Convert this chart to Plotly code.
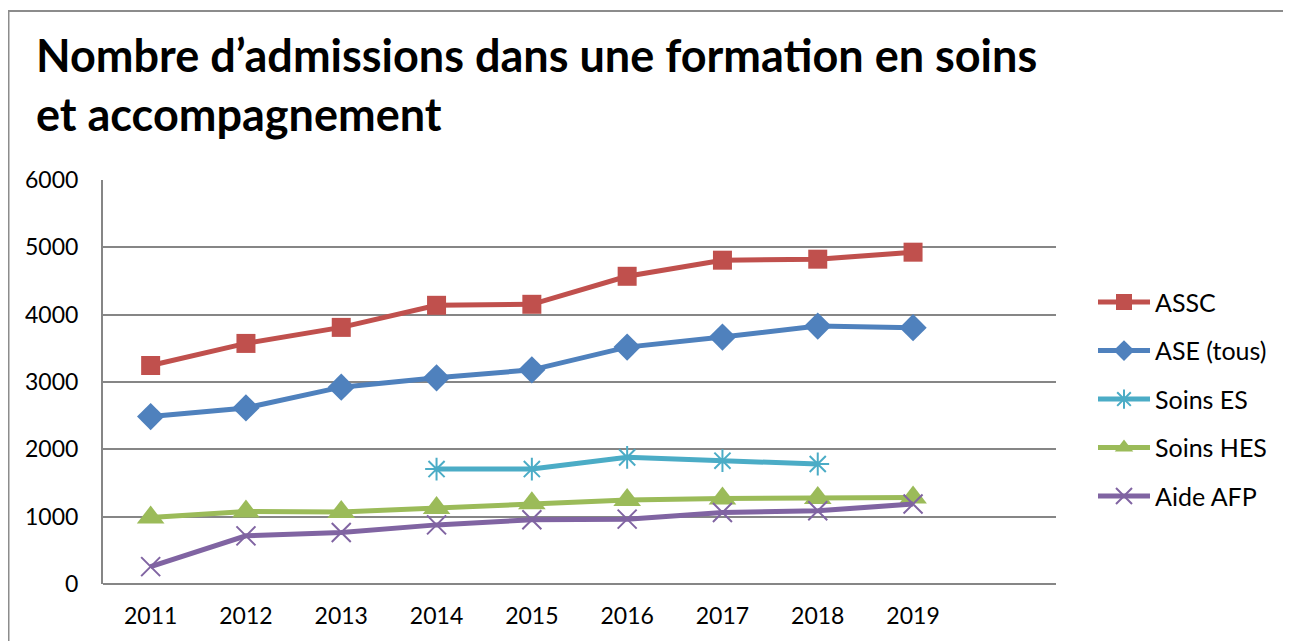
import plotly.graph_objects as go

years = [2011, 2012, 2013, 2014, 2015, 2016, 2017, 2018, 2019]
assc = [3245, 3573, 3811, 4139, 4154, 4570, 4809, 4824, 4928]
ase = [2486, 2615, 2923, 3062, 3181, 3518, 3667, 3831, 3807]
soins_es_years = [2014, 2015, 2016, 2017, 2018]
soins_es = [1707, 1707, 1881, 1831, 1782]
soins_hes = [987, 1076, 1070, 1127, 1201, 1246, 1270, 1276, 1285]
aide_afp = [258, 715, 764, 878, 953, 963, 1062, 1087, 1187]

title_text = "Nombre d’admissions dans une formation en soins<br>et accompagnement"
y_ticks = [0, 1000, 2000, 3000, 4000, 5000, 6000]

FONT = "Lato, Carlito, Calibri, sans-serif"

series = [
    ("ASSC", years, assc, "#C0504D", dict(symbol="square", size=19)),
    ("ASE (tous)", years, ase, "#4F81BD", dict(symbol="diamond", size=21)),
    ("Soins ES", soins_es_years, soins_es, "#4BACC6", dict(symbol="asterisk-open", size=19, line=dict(width=2, color="#4BACC6"))),
    ("Soins HES", years, soins_hes, "#9BBB59", dict(symbol="triangle-up", size=24)),
    ("Aide AFP", years, aide_afp, "#8064A2", dict(symbol="x-thin-open", size=19, line=dict(width=2, color="#8064A2"))),
]

fig = go.Figure()
for i, (name, xs, ys, color, mk) in enumerate(series):
    mk = dict(mk)
    mk["color"] = color
    fig.add_trace(go.Scatter(
        x=xs, y=ys, name=name, mode="lines+markers",
        line=dict(color=color, width=5),
        marker=mk, legendgroup=f"g{i}",
    ))

# page body has an 8px margin: figure coordinates = page coordinates - 8
OFF = 8
W, H = 1291 - OFF, 641 - OFF
L, R, T, B = 103 - OFF, 1291 - 1056, 180 - OFF, 641 - 589
pw, ph = W - L - R, H - T - B

def px_x(x):
    return (x - OFF - L) / pw

def px_y(y):
    return (H - B - (y - OFF)) / ph

fig.add_shape(type="rect", xref="paper", yref="paper",
              x0=px_x(8.5), x1=px_x(1300), y0=px_y(650), y1=px_y(9),
              line=dict(color="#8C8C8C", width=2), fillcolor="rgba(0,0,0,0)", layer="below")

fig.update_layout(
    width=W, height=H,
    margin=dict(l=L, r=R, t=T, b=B),
    paper_bgcolor="white", plot_bgcolor="white",
    font=dict(family=FONT, color="#000000", size=23),
    title=dict(text=title_text, x=(36 - OFF) / W, xanchor="left", xref="container",
               y=1 - 64 / H, yanchor="top", yref="container",
               font=dict(family=FONT, size=45, color="#000000", weight="bold")),
    showlegend=True,
    legend=dict(x=px_x(1093), y=px_y(402), xanchor="left", yanchor="middle",
                font=dict(family=FONT, size=25), traceorder="grouped",
                tracegroupgap=13, bgcolor="rgba(0,0,0,0)", itemwidth=52),
    xaxis=dict(range=[2010.5, 2020.5], tickvals=years, ticktext=[str(y) for y in years],
               showgrid=False, zeroline=False, showline=False, ticks="",
               ticklabelstandoff=16, tickfont=dict(size=23)),
    yaxis=dict(range=[0, 6000], tickvals=y_ticks, showgrid=True, gridcolor="#868686",
               gridwidth=2, zeroline=False, showline=True, linecolor="#868686", linewidth=2,
               ticks="", ticklabelstandoff=18, tickfont=dict(size=23)),
)
fig.add_shape(type="line", xref="paper", yref="paper", x0=0, x1=1, y0=0, y1=0,
              line=dict(color="#868686", width=2))

fig.write_html("out.html")
